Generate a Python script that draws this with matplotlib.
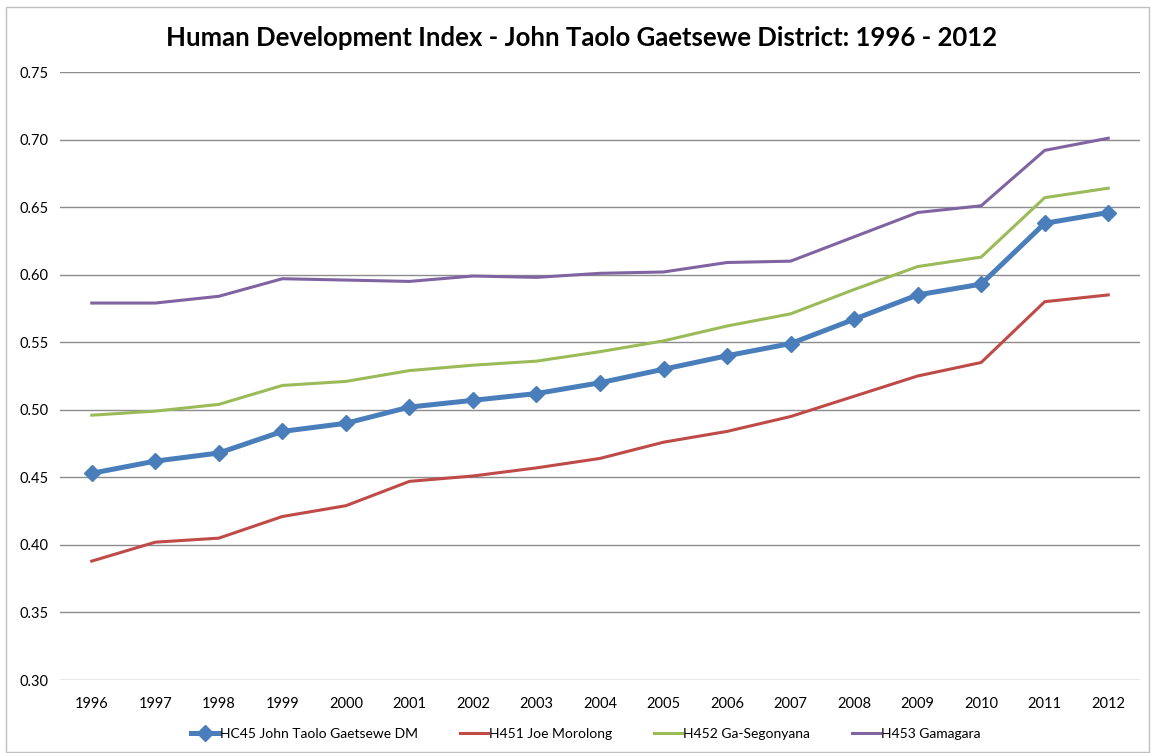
import matplotlib.pyplot as plt
from matplotlib.patches import Rectangle

years = [str(y) for y in range(1996, 2013)]

hc45 = [0.453, 0.462, 0.468, 0.484, 0.490, 0.502, 0.507, 0.512, 0.520,
        0.530, 0.540, 0.549, 0.567, 0.585, 0.593, 0.638, 0.646]
h451 = [0.388, 0.402, 0.405, 0.421, 0.429, 0.447, 0.451, 0.457, 0.464,
        0.476, 0.484, 0.495, 0.510, 0.525, 0.535, 0.580, 0.585]
h452 = [0.496, 0.499, 0.504, 0.518, 0.521, 0.529, 0.533, 0.536, 0.543,
        0.551, 0.562, 0.571, 0.589, 0.606, 0.613, 0.657, 0.664]
h453 = [0.579, 0.579, 0.584, 0.597, 0.596, 0.595, 0.599, 0.598, 0.601,
        0.602, 0.609, 0.610, 0.628, 0.646, 0.651, 0.692, 0.701]

labels = ["HC45 John Taolo Gaetsewe DM", "H451 Joe Morolong",
          "H452 Ga-Segonyana", "H453 Gamagara"]
yticks = [0.30, 0.35, 0.40, 0.45, 0.50, 0.55, 0.60, 0.65, 0.70, 0.75]

plt.rcParams['font.family'] = ['Lato', 'DejaVu Sans']

fig = plt.figure(figsize=(11.51, 7.53), dpi=100)
ax = fig.add_axes([60/1151, 1 - 680/753, 1080/1151, 608/753])

# chart border
fig.patches.append(Rectangle((6/1151, 1/753), 1143/1151, 745/753, transform=fig.transFigure,
                             fill=False, edgecolor="#bfbfbf", linewidth=1))

x = list(range(len(years)))
ax.plot(x, h451, color="#BE4B48", linewidth=2.2, label=labels[1], zorder=3)
ax.plot(x, h452, color="#9BBB59", linewidth=2.2, label=labels[2], zorder=3)
ax.plot(x, h453, color="#8064A2", linewidth=2.2, label=labels[3], zorder=3)
ax.plot(x, hc45, color="#4A7EBB", linewidth=3.6, marker="D", markersize=8,
        label=labels[0], zorder=4)

ax.set_xlim(-0.5, len(years) - 0.5)
ax.set_ylim(0.30, 0.75)
ax.set_yticks(yticks)
ax.set_yticklabels([f"{v:.2f}" for v in yticks])
ax.set_xticks(x)
ax.set_xticklabels(years)
ax.tick_params(length=0, labelsize=10.5, colors="black")
ax.tick_params(axis="x", pad=12)
ax.tick_params(axis="y", pad=8)
ax.grid(axis="y", color="#8c8c8c", linewidth=1)
ax.set_axisbelow(True)
for s in ax.spines.values():
    s.set_visible(False)

fig.suptitle("Human Development Index - John Taolo Gaetsewe District: 1996 - 2012",
             x=0.505, y=1 - 38/753, va="center", fontsize=18.5, fontweight="bold")

h, l = ax.get_legend_handles_labels()
order = [3, 0, 1, 2]
fig.legend([h[i] for i in order], [l[i] for i in order], loc="center",
           bbox_to_anchor=(0.509, 1 - 734/753), ncol=4, frameon=False,
           fontsize=10, handlelength=2.0, columnspacing=3.0, handletextpad=0.1)

plt.savefig("out.png", dpi=100)
